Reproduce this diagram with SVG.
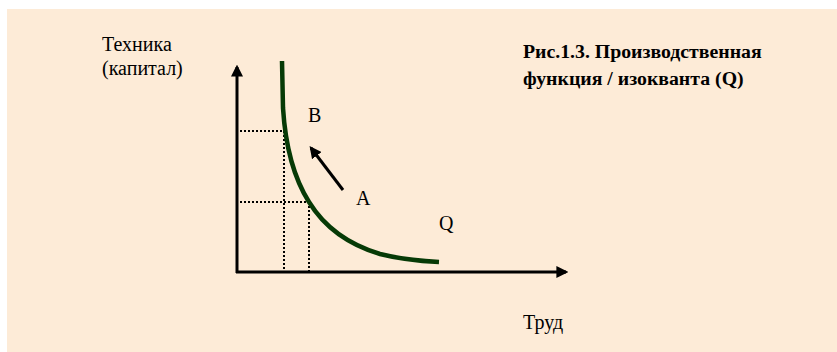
<svg xmlns="http://www.w3.org/2000/svg" width="837" height="352" viewBox="0 0 837 352">
<defs>
<style>
.t{font-family:"Liberation Serif","Times New Roman",serif;font-size:20px;fill:#000}
.b{font-family:"Liberation Serif","Times New Roman",serif;font-size:19.8px;font-weight:bold;fill:#000}
.ax{stroke:#000;stroke-width:3;fill:none}
.dot{stroke:#000;stroke-width:2;stroke-dasharray:2 2;fill:none}
</style>
<marker id="ah" viewBox="0 0 10 10" refX="8" refY="5" markerWidth="4" markerHeight="4" markerUnits="strokeWidth" orient="auto">
<path d="M0,0 L10,5 L0,10 z" fill="#000"/>
</marker>
</defs>
<rect x="0" y="0" width="837" height="352" fill="#fff"/>
<rect x="7" y="9" width="830" height="343" fill="#FDEBD7"/>
<g id="connectors">
<line class="ax" x1="237" y1="273" x2="237" y2="67" marker-end="url(#ah)"/>
<line class="ax" x1="236" y1="272" x2="566" y2="272" marker-end="url(#ah)"/>
<polyline class="dot" points="240,131 285,131"/>
<polyline class="dot" points="284,131 284,272"/>
<polyline class="dot" points="240,202 309,202"/>
<polyline class="dot" points="309,202 309,272"/>
<line x1="343" y1="190" x2="311" y2="148" stroke="#000" stroke-width="3" marker-end="url(#ah)"/>
</g>
<g id="curve">
<path d="M282,61 L283,108 C285,140 292,175 309,202 C325,228 350,245 380,254 C400,259 420,261 439,262" stroke="#063A06" stroke-width="4.5" fill="none"/>
</g>
<g id="labels">
<text class="t" x="102" y="51">Техника</text>
<text class="t" x="102" y="75">(капитал)</text>
<text class="t" x="308" y="122">B</text>
<text class="t" x="356" y="205">A</text>
<text class="t" x="439" y="230">Q</text>
<text class="t" x="523" y="329">Труд</text>
<text class="b" x="523" y="58">Рис.1.3. Производственная</text>
<text class="b" x="523" y="85">функция / изокванта (Q)</text>
</g>
</svg>
